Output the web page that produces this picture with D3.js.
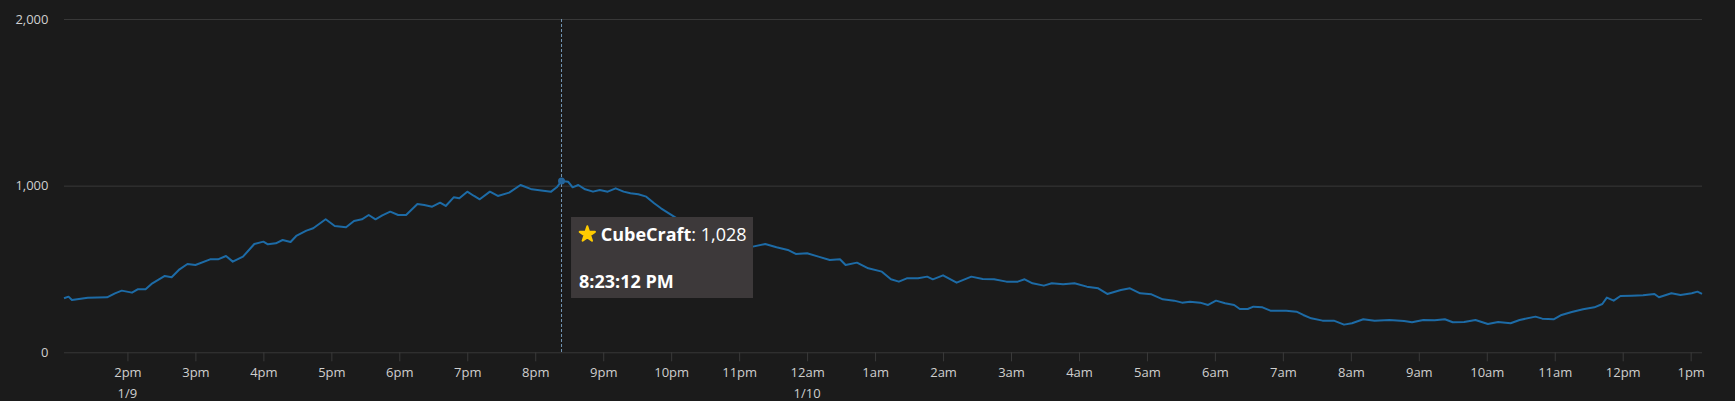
<!DOCTYPE html>
<html>
<head>
<meta charset="utf-8">
<script src="https://cdn.jsdelivr.net/npm/d3@7"></script>
<style>
  html, body { margin: 0; padding: 0; background: #1b1b1b; }
  svg { display: block; font-family: "Open Sans", sans-serif; }
</style>
</head>
<body>
<svg id="chart" width="1735" height="401"></svg>
<script>
// ---- data ----
const seriesName = "CubeCraft";
const startDate = "2024-01-09T13:00:00";
const minutesAfter1pm = [4, 8, 11, 25, 42, 49, 55, 64, 69, 76, 82, 93, 99, 106, 113, 120, 133, 140, 147, 153, 162, 172, 180, 184, 191, 197, 204, 209, 218, 224, 235, 243, 253, 260, 267, 273, 279, 285, 292, 299, 306, 316, 322, 329, 336, 341, 348, 353, 360, 366, 371, 380, 387, 397, 407, 417, 427, 434, 439, 443.2, 449, 453, 458, 464, 471, 477, 484, 491, 498, 504, 511, 518, 525, 531, 538, 545, 560, 575, 590, 600, 612, 623, 633, 643, 650, 660, 670, 680, 689, 694, 704, 714, 726, 734, 741, 748, 758, 766, 771, 780, 792, 805, 815, 825, 836, 846, 852, 859, 869, 876, 886, 896, 907, 917, 925, 937, 945, 954, 964, 974, 984, 991, 998, 1007, 1014, 1021, 1029, 1037, 1042, 1049, 1054, 1062, 1069, 1078, 1083, 1092, 1098, 1105, 1115, 1125, 1134, 1141, 1151, 1161, 1174, 1187, 1194, 1204, 1214, 1223, 1230, 1240, 1250, 1261, 1270, 1281, 1289, 1303, 1309, 1319, 1326, 1335, 1345, 1355, 1362, 1366, 1372, 1378, 1388, 1398, 1408, 1412, 1423, 1431, 1441, 1446, 1450];
const players = [324, 334, 314, 328, 330, 354, 370, 358, 378, 378, 414, 458, 450, 498, 530, 524, 558, 558, 578, 544, 574, 650, 664, 648, 654, 674, 662, 698, 730, 744, 798, 758, 750, 788, 798, 824, 798, 822, 844, 824, 824, 890, 884, 874, 898, 878, 930, 924, 964, 938, 918, 964, 938, 958, 1004, 978, 970, 964, 990, 1028, 1024, 990, 1004, 978, 964, 974, 964, 984, 964, 954, 948, 934, 894, 864, 834, 804, 760, 720, 680, 660, 634, 650, 630, 614, 590, 594, 574, 554, 558, 524, 538, 504, 484, 438, 424, 444, 444, 454, 438, 462, 418, 454, 440, 438, 424, 424, 438, 414, 400, 414, 408, 414, 394, 384, 350, 374, 384, 354, 348, 318, 310, 298, 304, 298, 284, 310, 294, 284, 260, 260, 274, 270, 250, 250, 250, 244, 224, 204, 190, 190, 166, 174, 198, 190, 194, 188, 180, 194, 192, 198, 180, 182, 194, 170, 182, 174, 194, 214, 202, 198, 224, 242, 258, 270, 290, 328, 310, 338, 340, 342, 350, 330, 354, 344, 354, 364, 350];
const yTicks = [0, 1000, 2000];
const dateLabelTimes = ["2024-01-09T14:00:00", "2024-01-10T00:00:00"];
const dateLabelTexts = ["1/9", "1/10"];
const hoverTime = "2024-01-09T20:23:12";
const hoverValue = 1028;
const hoverTimeLabel = "8:23:12 PM";

// ---- build ----
const t0 = new Date(startDate);
const data = minutesAfter1pm.map((m, i) => ({ t: new Date(t0.getTime() + m * 60000), v: players[i] }));

const W = 1735, H = 401;
const margin = { left: 64, right: 33, top: 19, bottom: 48.7 };
const svg = d3.select("#chart");

const x = d3.scaleTime()
  .domain(d3.extent(data, d => d.t))
  .range([margin.left, W - margin.right]);
const y = d3.scaleLinear()
  .domain([0, 2000])
  .range([H - margin.bottom, margin.top]);

// gridlines + y labels
const yAxis = d3.axisLeft(y)
  .tickValues(yTicks)
  .tickFormat(d3.format(","))
  .tickSize(-(W - margin.left - margin.right))
  .tickPadding(15.5);
const gy = svg.append("g").attr("transform", `translate(${margin.left},0)`).call(yAxis);
gy.select(".domain").remove();
gy.selectAll(".tick line").attr("stroke", "#383838").attr("stroke-width", 1);
gy.selectAll(".tick text").attr("fill", "#cfcfcf").attr("font-size", 13)
  .attr("font-family", "Open Sans").attr("dy", "0.32em");

// x axis
const fmtHour = d => d3.timeFormat("%-I%p")(d).toLowerCase();
const xAxis = d3.axisBottom(x)
  .ticks(d3.timeHour.every(1))
  .tickFormat(fmtHour)
  .tickSize(9)
  .tickPadding(6);
const gx = svg.append("g").attr("transform", `translate(0,${y(0)})`).call(xAxis);
gx.select(".domain").remove();
gx.selectAll(".tick line").attr("stroke", "#3a3a3a").attr("stroke-width", 1);
gx.selectAll(".tick text").attr("fill", "#cfcfcf").attr("font-size", 13)
  .attr("font-family", "Open Sans").attr("dy", "0.71em");

// date sub-labels
svg.append("g").selectAll("text")
  .data(dateLabelTimes.map((d, i) => ({ t: new Date(d), s: dateLabelTexts[i] })))
  .join("text")
  .attr("x", d => x(d.t))
  .attr("y", y(0) + 45.7)
  .attr("text-anchor", "middle")
  .attr("fill", "#cfcfcf")
  .attr("font-size", 13)
  .text(d => d.s);

// crosshair
const ht = new Date(hoverTime);
svg.append("line")
  .attr("x1", x(ht)).attr("x2", x(ht))
  .attr("y1", y(2000)).attr("y2", y(0))
  .attr("stroke", "#7196b4")
  .attr("stroke-width", 1)
  .attr("stroke-dasharray", "3,2");

// line
const line = d3.line().x(d => x(d.t)).y(d => y(d.v));
svg.append("path")
  .datum(data)
  .attr("fill", "none")
  .attr("stroke", "#1d6ba6")
  .attr("stroke-width", 2)
  .attr("stroke-linejoin", "round")
  .attr("d", line);

// hover marker
svg.append("circle")
  .attr("cx", x(ht)).attr("cy", y(hoverValue))
  .attr("r", 3.5)
  .attr("fill", "#24649a");

// tooltip
const tx = x(ht) + 9.5, ty = 217;
const tip = svg.append("g").attr("transform", `translate(${tx},${ty})`);
tip.append("rect").attr("width", 182).attr("height", 81).attr("fill", "#3d393a");
tip.append("path")
  .attr("d", d3.symbol(d3.symbolStar, 72)())
  .attr("transform", "translate(16.3,17.3)")
  .attr("fill", "#ffcc00")
  .attr("stroke", "#ffcc00")
  .attr("stroke-width", 2)
  .attr("stroke-linejoin", "round");
const t1 = tip.append("text").attr("x", 29.7).attr("y", 23.7).attr("font-size", 18).attr("fill", "#ffffff");
t1.append("tspan").attr("font-weight", "bold").text(seriesName);
t1.append("tspan").attr("font-weight", "normal").text(": " + d3.format(",")(hoverValue));
tip.append("text").attr("x", 8).attr("y", 71.3).attr("font-size", 18)
  .attr("font-weight", "bold").attr("fill", "#ffffff").text(hoverTimeLabel);
</script>
</body>
</html>
